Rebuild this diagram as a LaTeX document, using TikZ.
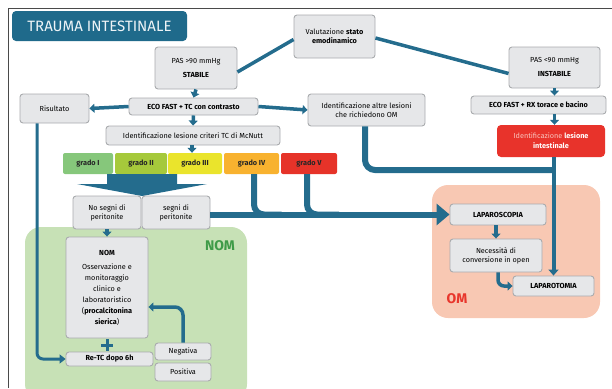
\documentclass[tikz,border=0pt]{standalone}
\usepackage{fontspec}
\setmainfont{Fira Sans}
\usetikzlibrary{arrows.meta,calc}
\definecolor{teal}{HTML}{246C8D}
\definecolor{titlefill}{HTML}{1F6A8B}
\definecolor{boxfill}{HTML}{E6E7E9}
\definecolor{boxline}{HTML}{A9ABAE}
\definecolor{gI}{HTML}{86C77B}
\definecolor{gII}{HTML}{A6C93B}
\definecolor{gIII}{HTML}{EAE42C}
\definecolor{gIV}{HTML}{F8B22F}
\definecolor{gV}{HTML}{E63329}
\definecolor{nomfill}{HTML}{C7E1B6}
\definecolor{nomtext}{HTML}{3F9B48}
\definecolor{omfill}{HTML}{F8C8B3}
\definecolor{omtext}{HTML}{E8362C}
\definecolor{redbox}{HTML}{E8332B}
\definecolor{pinktxt}{HTML}{F9C4BD}
\definecolor{frame}{HTML}{4A4A4A}
\begin{document}
\begin{tikzpicture}[x=1pt,y=-1pt,
  box/.style={draw=boxline, fill=boxfill, rounded corners=3pt, line width=0.9pt,
    align=center, inner sep=1pt, text=black,
    font=\fontsize{7.3}{9}\selectfont},
  boldbox/.style={box, font=\fontsize{7.3}{9}\selectfont\bfseries},
  grade/.style={rounded corners=2pt, minimum height=21pt, inner sep=1pt,
    text=black!85, font=\fontsize{7.3}{9}\selectfont\bfseries},
  conn/.style={draw=teal, line width=3.5pt},
  arr/.style={conn, -{Triangle[width=9pt,length=5pt]}},
  heavy/.style={draw=teal, line width=6pt, rounded corners=10pt},
  region/.style={rounded corners=16pt},
  sz/.style 2 args={minimum width=#1pt, minimum height=#2pt}
]
\useasboundingbox (0,0) rectangle (612,388);

% outer frame
\draw[frame, line width=1pt] (8,388) -- (8,8) -- (612,8);

% background regions
\fill[nomfill, region] (25,227) rectangle (247,400);
\fill[omfill, region] (432,185) rectangle (600,318);
\node[text=nomtext, font=\fontsize{14}{14}\selectfont\bfseries] (nomlab) at (220,246) {NOM};
\node[text=omtext, font=\fontsize{14}{14}\selectfont\bfseries] (omlab) at (457,299) {OM};

% title
\node[fill=titlefill, rounded corners=4pt, sz={175}{30}, text=white!92!titlefill,
  font=\fontsize{15}{16}\selectfont] (title) at (99.5,26) {TRAUMA INTESTINALE};

% upper boxes
\node[box, sz={81}{43}] (val) at (334.5,36.5) {Valutazione \textbf{stato}\\\textbf{emodinamico}};
\node[box, sz={82}{42}] (pas1) at (196,68) {PAS >90 mmHg\\[5pt]\textbf{STABILE}};
\node[box, sz={91}{41}] (pas2) at (554.5,67.5) {PAS <90 mmHg\\[5pt]\textbf{INSTABILE}};
\node[boldbox, sz={129}{17}] (eco1) at (193.5,106.5) {ECO FAST + TC con contrasto};
\node[box, sz={69}{29}] (ris) at (54.5,108.5) {Risultato};
\node[box, sz={117}{32}] (altre) at (366.5,110) {Identificazione altre lesioni\\che richiedono OM};
\node[boldbox, sz={135}{18}] (eco2) at (538.5,105) {ECO FAST + RX torace e bacino};
\node[fill=redbox, rounded corners=4pt, sz={108}{32}, align=center, inner sep=1pt,
  text=white, font=\fontsize{7.3}{10}\selectfont] (red) at (551,141)
  {{\color{pinktxt}Identificazione} \textbf{lesione}\\\textbf{intestinale}};
\node[box, sz={174}{19}] (mcn) at (193,135.5) {Identificazione lesione criteri TC di McNutt};

% grades
\node[grade, fill=gI, sz={50}{21}] (g1) at (88,163.5) {grado I};
\node[grade, fill=gII, sz={52}{21}] (g2) at (141,163.5) {grado II};
\node[grade, fill=gIII, sz={54}{21}] (g3) at (195,163.5) {grado III};
\node[grade, fill=gIV, sz={55}{21}] (g4) at (251.5,163.5) {grado IV};
\node[grade, fill=gV, sz={56}{21}] (g5) at (309,163.5) {grado V};

% peritonitis split
\node[box, sz={68}{33}] (nos) at (107,212.5) {No segni di\\peritonite};
\node[box, sz={68}{33}] (sn) at (176,212.5) {segni di\\peritonite};

% wide arrow from grades I-III
\fill[teal] (107,174) -- (177,174) -- (177,184) -- (207,184) -- (142,196)
  -- (77,184) -- (107,184) -- cycle;

% NOM branch
\node[box, sz={82}{101}, font=\fontsize{7.3}{11}\selectfont] (nombox) at (107,287.5)
  {\textbf{NOM}\\[3pt]Osservazione e\\monitoraggio\\clinico e\\laboratoristico\\(\textbf{procalcitonina}\\\textbf{sierica})};
\node[boldbox, sz={87}{14}] (retc) at (109.5,359) {Re-TC dopo 6h};
\node[box, sz={56}{17}] (neg) at (183,351.5) {Negativa};
\node[box, sz={56}{18}] (pos) at (183,372) {Positiva};
\draw[teal, line width=3pt] (101,345) -- (113,345) (107,339) -- (107,351);

% OM branch
\node[boldbox, sz={96}{21}] (lapa) at (498,214.5) {LAPAROSCOPIA};
\node[box, sz={92}{33}] (nec) at (496,255.5) {Necessità di\\conversione in open};
\node[boldbox, sz={81}{20}] (lapt) at (553.5,286) {LAPAROTOMIA};

% connectors
\draw[conn] (val.west) ++(0,3) -- ([yshift=-4pt]pas1.east);
\draw[conn] (val.east) ++(0,1.5) -- ([yshift=-6pt]pas2.west);
\draw[arr] (pas1.south) -- (eco1.north);
\draw[arr] (pas2.south) -- (eco2.north -| pas2.south);
\draw[arr] (eco2.south -| pas2.south) -- (red.north -| pas2.south);
\draw[arr] (eco1.west) -- (ris.east);
\draw[arr] (eco1.east) -- (altre.west);
\draw[arr] (eco1.south) -- (mcn.north);
\draw[arr] ([xshift=-1pt]mcn.south) -- ([xshift=-1pt]mcn.south |- g2.north);
\draw[arr] (nos.south) -- (nos.south |- nombox.north);

% surgical routes
\draw[draw=teal, line width=6pt, -{Triangle[width=21pt,length=13pt]}]
  (sn.east |- lapa.west) -- (lapa.west);
\draw[heavy] ([xshift=2.5pt]g4.south) |- ($(g4.south |- lapa.west)+(30,0)$);
\draw[heavy] ([xshift=-2pt]g5.south) |- ($(g5.south |- lapa.west)+(30,0)$);
\coordinate (join) at (554,170);
\draw[heavy] ([xshift=-1.5pt]altre.south) |- (join);
\draw[draw=teal, line width=4pt, -{Triangle[width=10pt,length=6pt]}]
  (lapt.north |- red.south) -- (lapt.north);
\draw[arr] (lapa.south -| nec.south) -- (nec.north);
\draw[arr, rounded corners=6pt] ([xshift=2pt]nec.south) |- (lapt.west);

% NOM loop and re-imaging
\draw[arr, rounded corners=8pt] (neg.north) |- ([yshift=-19.5pt]nombox.east);
\draw[draw=teal, line width=3pt, rounded corners=6pt, -{Triangle[width=9pt,length=6pt]}]
  ([xshift=-17.5pt]ris.south) |- (retc.west);
\end{tikzpicture}
\end{document}
